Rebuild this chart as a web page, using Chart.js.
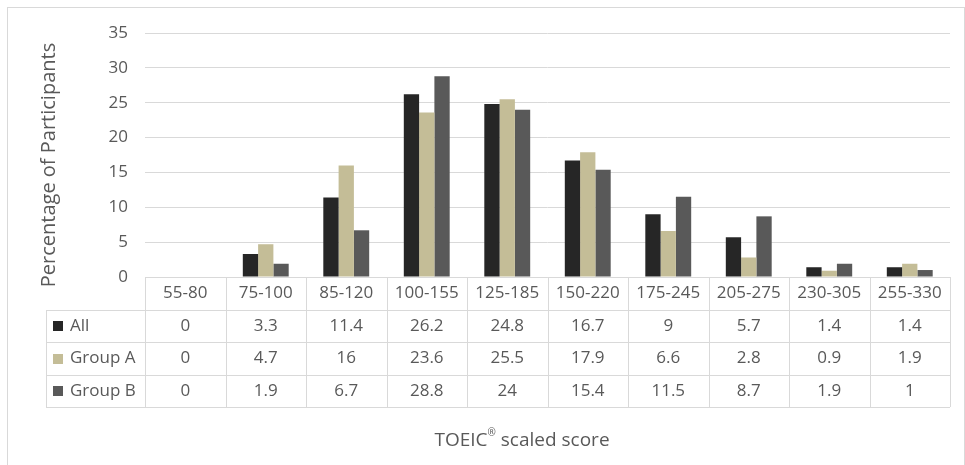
<!doctype html>
<html lang="en">
  <head>
    <meta charset="utf-8">
    <title>TOEIC scaled score distribution</title>
    <script src="https://cdn.jsdelivr.net/npm/chart.js"></script>
    <style>
      body { margin: 0; background: #fff; }
    </style>
  </head>
  <body>
    <canvas id="scoreChart" width="965" height="465"></canvas>

    <script type="text/javascript">
        // score bands and percentages per group
        var scoreBands = ['55-80', '75-100', '85-120', '100-155', '125-185', '150-220', '175-245', '205-275', '230-305', '255-330'];
        var allValues = [0, 3.3, 11.4, 26.2, 24.8, 16.7, 9, 5.7, 1.4, 1.4];
        var groupAValues = [0, 4.7, 16, 23.6, 25.5, 17.9, 6.6, 2.8, 0.9, 1.9];
        var groupBValues = [0, 1.9, 6.7, 28.8, 24, 15.4, 11.5, 8.7, 1.9, 1];
        var seriesNames = ['All', 'Group A', 'Group B'];
        var seriesColors = ['#262626', '#c4bd97', '#595959'];

        var textColor = '#595959';
        var lineColor = '#d9d9d9';
        var fontFamily = '"Open Sans", sans-serif';

        // data table drawn under the plot, columns follow the x scale
        var dataTable = {
            id: 'dataTable',
            afterDraw: function (chart) {
                var ctx = chart.ctx;
                var area = chart.chartArea;
                var xScale = chart.scales.x;
                var colW = (area.right - area.left) / scoreBands.length;
                var top = area.bottom;
                var legendLeft = 46;
                var rows = [allValues, groupAValues, groupBValues];

                ctx.save();
                // outer frame
                ctx.strokeStyle = lineColor;
                ctx.lineWidth = 1;
                ctx.strokeRect(7.5, 7.5, 957, 470);

                ctx.beginPath();
                // horizontal lines
                ctx.moveTo(area.left, top + 0.5);
                ctx.lineTo(area.right, top + 0.5);
                for (var r = 1; r <= 4; r++) {
                    var y = Math.round(top + r * 32.5) + 0.5;
                    ctx.moveTo(legendLeft, y);
                    ctx.lineTo(area.right, y);
                }
                // vertical lines
                for (var c = 0; c <= scoreBands.length; c++) {
                    var x = Math.round(area.left + c * colW) + 0.5;
                    ctx.moveTo(x, top);
                    ctx.lineTo(x, Math.round(top + 4 * 32.5));
                }
                ctx.moveTo(legendLeft + 0.5, Math.round(top + 32.5));
                ctx.lineTo(legendLeft + 0.5, Math.round(top + 4 * 32.5));
                ctx.stroke();

                ctx.fillStyle = textColor;
                ctx.font = '17px ' + fontFamily;
                ctx.textAlign = 'center';
                ctx.textBaseline = 'middle';
                for (var i = 0; i < scoreBands.length; i++) {
                    var cx = xScale.getPixelForValue(i);
                    ctx.fillText(scoreBands[i], cx, top + 16.5);
                    for (var k = 0; k < rows.length; k++) {
                        ctx.fillText(String(rows[k][i]), cx, top + (k + 1) * 32.5 + 16.5);
                    }
                }

                // legend keys in the first column
                ctx.textAlign = 'left';
                for (var s = 0; s < seriesNames.length; s++) {
                    var rowMid = top + (s + 1) * 32.5 + 16.5;
                    ctx.fillStyle = seriesColors[s];
                    ctx.fillRect(53, Math.round(rowMid - 5), 10, 10);
                    ctx.fillStyle = textColor;
                    ctx.fillText(seriesNames[s], 70, rowMid);
                }

                // axis titles
                ctx.font = '20px ' + fontFamily;
                ctx.textAlign = 'center';
                ctx.save();
                ctx.translate(49, 165);
                ctx.rotate(-Math.PI / 2);
                ctx.fillText('Percentage of Participants', 0, 0);
                ctx.restore();

                var partA = 'TOEIC';
                var partB = ' scaled score';
                ctx.font = '19px ' + fontFamily;
                var wA = ctx.measureText(partA).width;
                var wB = ctx.measureText(partB).width;
                ctx.font = '10px ' + fontFamily;
                var wR = ctx.measureText('®').width;
                var startX = 522 - (wA + wR + wB) / 2;
                ctx.textAlign = 'left';
                ctx.font = '19px ' + fontFamily;
                ctx.fillText(partA, startX, 441);
                ctx.font = '10px ' + fontFamily;
                ctx.fillText('®', startX + wA, 433);
                ctx.font = '19px ' + fontFamily;
                ctx.fillText(partB, startX + wA + wR, 441);
                ctx.restore();
            }
        };

        var ctx = document.getElementById('scoreChart').getContext('2d');
        var chart = new Chart(ctx, {
            type: 'bar',
            data: {
                labels: scoreBands,
                datasets: [
                    { label: seriesNames[0], data: allValues, backgroundColor: seriesColors[0] },
                    { label: seriesNames[1], data: groupAValues, backgroundColor: seriesColors[1] },
                    { label: seriesNames[2], data: groupBValues, backgroundColor: seriesColors[2] }
                ]
            },
            options: {
                responsive: false,
                animation: false,
                layout: {
                    padding: { left: 0, top: 33, right: 15, bottom: 188 }
                },
                datasets: {
                    bar: { categoryPercentage: 0.57, barPercentage: 1.0 }
                },
                plugins: {
                    legend: { display: false },
                    tooltip: { enabled: false }
                },
                scales: {
                    x: { display: false },
                    y: {
                        min: 0,
                        max: 35,
                        ticks: {
                            stepSize: 5,
                            color: textColor,
                            padding: 17,
                            font: { family: fontFamily, size: 17 }
                        },
                        grid: { color: lineColor, drawTicks: false },
                        border: { display: false },
                        afterFit: function (scale) { scale.width = 145; }
                    }
                }
            },
            plugins: [dataTable]
        });
    </script>
  </body>
</html>
